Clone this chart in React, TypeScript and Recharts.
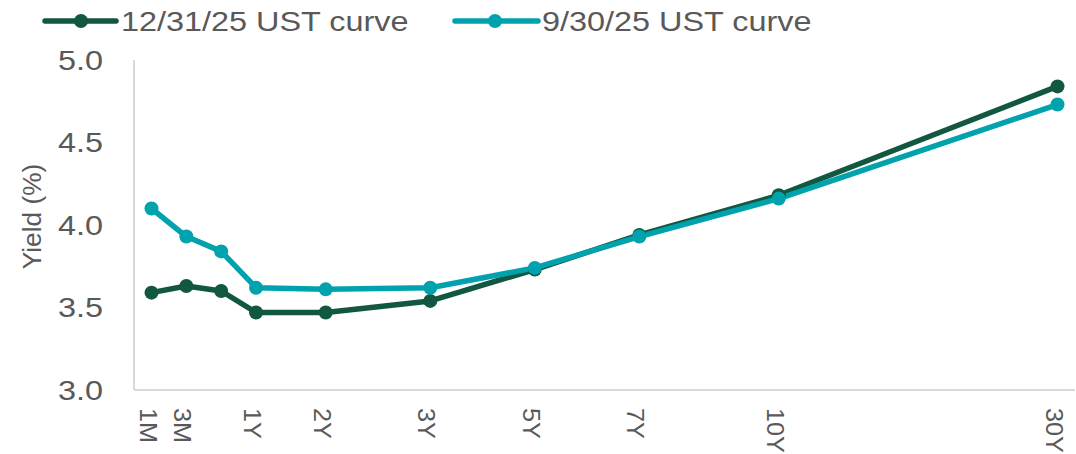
import React from "react";
import { LineChart, Line, XAxis, YAxis } from "recharts";

// Tenors of the Treasury curve and their slot on the (evenly spaced) category axis of the source chart
const tenors = ["1M", "3M", "6M", "1Y", "2Y", "3Y", "5Y", "7Y", "10Y", "30Y"];
const tenorSlots = [0, 1, 2, 3, 5, 8, 11, 14, 18, 26];
const slotCount = 27;
const hiddenTickLabels = ["6M"];

// Yields (%)
const yieldsDec2025 = [3.59, 3.63, 3.6, 3.47, 3.47, 3.54, 3.73, 3.94, 4.18, 4.84];
const yieldsSep2025 = [4.1, 3.93, 3.84, 3.62, 3.61, 3.62, 3.74, 3.93, 4.16, 4.73];

const yTicks = [3.0, 3.5, 4.0, 4.5, 5.0];

const seriesNames = ["12/31/25 UST curve", "9/30/25 UST curve"];
const DARK = "#12573f";
const TEAL = "#00a3ad";
const TEXT = "#595959";
const AXIS = "#d9d9d9";
const FONT = "'Liberation Sans', Arial, sans-serif";

const rows = Array.from({ length: slotCount }, (_, s) => {
  const i = tenorSlots.indexOf(s);
  return {
    slot: s,
    tenor: i >= 0 ? tenors[i] : "",
    dec: i >= 0 ? yieldsDec2025[i] : null,
    sep: i >= 0 ? yieldsSep2025[i] : null,
  };
});

const XTick = (props: any) => {
  const { x, y, payload } = props;
  const row = rows[payload.value];
  const label = row ? row.tenor : "";
  if (!label || hiddenTickLabels.includes(label)) return <g />;
  return (
    <text
      transform={`translate(${x},${y}) rotate(90) translate(18,12) scale(1.1,1)`}
      fontSize={23}
      fontFamily={FONT}
      fill={TEXT}
      textAnchor="start"
    >
      {label}
    </text>
  );
};

const YTick = (props: any) => {
  const { x, y, payload } = props;
  return (
    <text
      transform={`translate(${x - 31},${y}) scale(1.2,1)`}
      textAnchor="end"
      dy="0.36em"
      fontSize={27}
      fontFamily={FONT}
      fill={TEXT}
    >
      {Number(payload.value).toFixed(1)}
    </text>
  );
};

const renderYLabel = () => (
  <text
    transform="translate(41,216.5) rotate(-90) scale(1.05,1)"
    textAnchor="middle"
    fontSize={25}
    fontFamily={FONT}
    fill={TEXT}
  >
    Yield (%)
  </text>
);

const LegendOverlay = () => {
  const items = [
    { name: seriesNames[0], color: DARK, x1: 45, x2: 116, cx: 81, tx: 121 },
    { name: seriesNames[1], color: TEAL, x1: 455, x2: 538, cx: 495, tx: 542 },
  ];
  return (
    <svg
      width={1076}
      height={45}
      style={{ position: "absolute", left: 0, top: 0, pointerEvents: "none" }}
    >
      {items.map((it) => (
        <g key={it.name}>
          <line x1={it.x1} x2={it.x2} y1={21} y2={21} stroke={it.color} strokeWidth={5.5} strokeLinecap="round" />
          <circle cx={it.cx} cy={21} r={7} fill={it.color} />
          <text
            transform={`translate(${it.tx},31) scale(1.2,1)`}
            fontSize={27}
            fontFamily={FONT}
            fill={TEXT}
          >
            {it.name}
          </text>
        </g>
      ))}
    </svg>
  );
};

export default function App() {
  return (
    <div style={{ position: "absolute", left: 0, top: 0, width: 1076, height: 454, background: "#fff" }}>
      <LineChart
        width={1076}
        height={454}
        data={rows}
        margin={{ top: 60, right: 1, bottom: 0, left: 0 }}
      >
        <XAxis
          dataKey="slot"
          type="category"
          interval={0}
          height={64}
          padding={{ left: 17.5, right: 17.5 }}
          axisLine={{ stroke: AXIS, strokeWidth: 2 }}
          tickLine={false}
          tickSize={0}
          tickMargin={0}
          tick={<XTick />}
        />
        <YAxis
          type="number"
          domain={[3, 5]}
          ticks={yTicks}
          width={134}
          allowDataOverflow
          axisLine={{ stroke: AXIS, strokeWidth: 2 }}
          tickLine={false}
          tickSize={0}
          tickMargin={0}
          tick={<YTick />}
          label={{ content: renderYLabel }}
        />
        <Line
          dataKey="dec"
          name={seriesNames[0]}
          type="linear"
          stroke={DARK}
          strokeWidth={5.5}
          strokeLinejoin="round"
          dot={{ r: 7, fill: DARK, stroke: "none" }}
          activeDot={false}
          connectNulls
          isAnimationActive={false}
        />
        <Line
          dataKey="sep"
          name={seriesNames[1]}
          type="linear"
          stroke={TEAL}
          strokeWidth={5.5}
          strokeLinejoin="round"
          dot={{ r: 7, fill: TEAL, stroke: "none" }}
          activeDot={false}
          connectNulls
          isAnimationActive={false}
        />
      </LineChart>
      <LegendOverlay />
    </div>
  );
}
